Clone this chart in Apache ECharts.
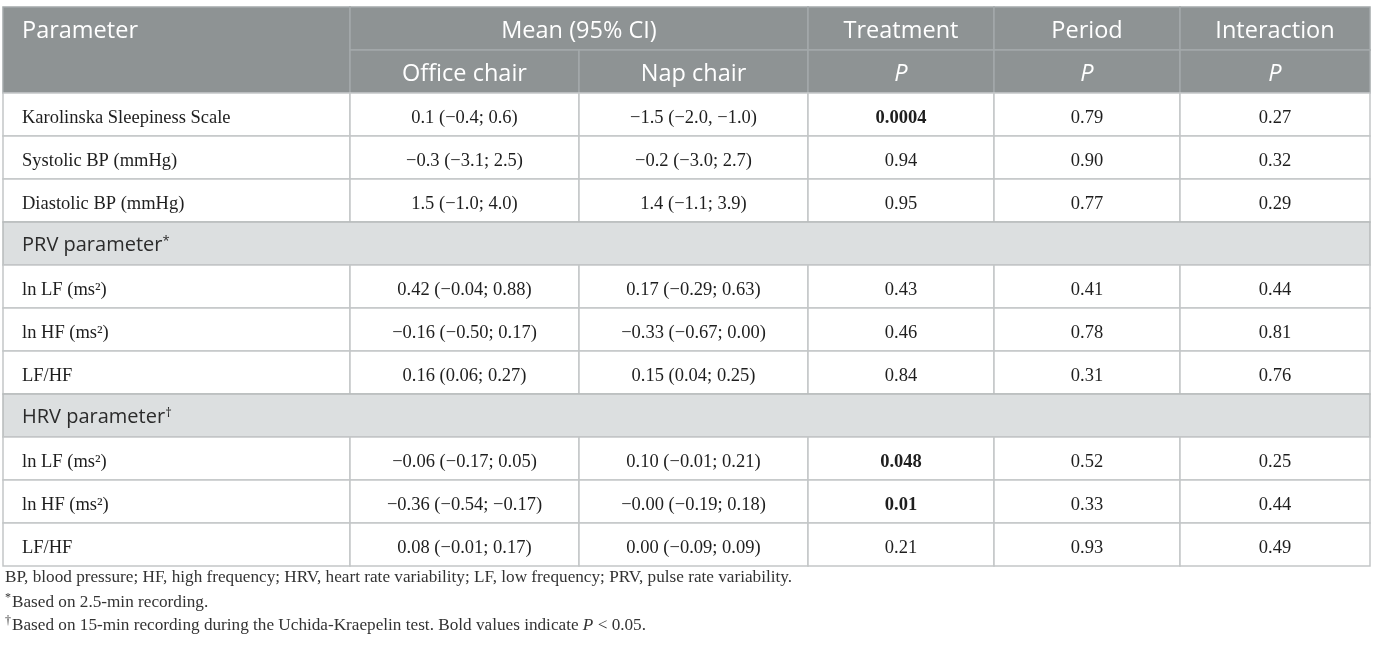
<!DOCTYPE html>
<html>
<head>
<meta charset="utf-8">
<title>Table</title>
<script src="https://cdn.jsdelivr.net/npm/echarts@6/dist/echarts.min.js"></script>
<style>
  html, body { margin: 0; padding: 0; background: #fff; }
  #chart1 { width: 1375px; height: 648px; }
</style>
</head>
<body>
<div id="chart1"></div>
<script>
// 表头
const headTop = ['Parameter', 'Mean (95% CI)', 'Treatment', 'Period', 'Interaction'];
const headSub = ['Office chair', 'Nap chair', 'P', 'P', 'P'];

// 分组
const sectionTitles = ['', 'PRV parameter', 'HRV parameter'];
const sectionMarks = ['', '*', '†'];
const sectionSizes = [3, 3, 3];

// 数据
const rowLabels = [
    'Karolinska Sleepiness Scale', 'Systolic BP (mmHg)', 'Diastolic BP (mmHg)',
    'ln LF (ms²)', 'ln HF (ms²)', 'LF/HF',
    'ln LF (ms²)', 'ln HF (ms²)', 'LF/HF'
];
const officeChair = [
    '0.1 (−0.4; 0.6)', '−0.3 (−3.1; 2.5)', '1.5 (−1.0; 4.0)',
    '0.42 (−0.04; 0.88)', '−0.16 (−0.50; 0.17)', '0.16 (0.06; 0.27)',
    '−0.06 (−0.17; 0.05)', '−0.36 (−0.54; −0.17)', '0.08 (−0.01; 0.17)'
];
const napChair = [
    '−1.5 (−2.0, −1.0)', '−0.2 (−3.0; 2.7)', '1.4 (−1.1; 3.9)',
    '0.17 (−0.29; 0.63)', '−0.33 (−0.67; 0.00)', '0.15 (0.04; 0.25)',
    '0.10 (−0.01; 0.21)', '−0.00 (−0.19; 0.18)', '0.00 (−0.09; 0.09)'
];
const pTreatment = ['0.0004', '0.94', '0.95', '0.43', '0.46', '0.84', '0.048', '0.01', '0.21'];
const pPeriod = ['0.79', '0.90', '0.77', '0.41', '0.78', '0.31', '0.52', '0.33', '0.93'];
const pInteraction = ['0.27', '0.32', '0.29', '0.44', '0.81', '0.76', '0.25', '0.44', '0.49'];

// 脚注
const footnotes = [
    '{t|BP, blood pressure; HF, high frequency; HRV, heart rate variability; LF, low frequency; PRV, pulse rate variability.}',
    '{s|*}{t|Based on 2.5-min recording.}',
    '{s|†}{t|Based on 15-min recording during the Uchida-Kraepelin test. Bold values indicate }{i|P}{t| < 0.05.}'
];

// 布局
const colEdges = [0, 347, 576, 805, 991, 1177, 1367];
const SANS = '"Open Sans", "Noto Sans", sans-serif';
const SERIF = '"Liberation Serif", "DejaVu Serif", serif';

const cells = [];
function addCell(c0, c1, r0, r1, text, kind, extra) {
    cells.push(Object.assign({ c0: c0, c1: c1, r0: r0, r1: r1, text: text, kind: kind }, extra || {}));
}

addCell(0, 1, 0, 2, headTop[0], 'head', { align: 'left' });
addCell(1, 3, 0, 1, headTop[1], 'head');
for (let k = 2; k < headTop.length; k++) addCell(k + 1, k + 2, 0, 1, headTop[k], 'head');
headSub.forEach(function (t, k) {
    addCell(k + 1, k + 2, 1, 2, t, 'head', { italic: t === 'P' });
});

let r = 2, idx = 0;
sectionTitles.forEach(function (title, s) {
    if (title) {
        addCell(0, 6, r, r + 1, '{a|' + title + '}{s|' + sectionMarks[s] + '}', 'section', { align: 'left' });
        r++;
    }
    for (let i = 0; i < sectionSizes[s]; i++) {
        const vals = [rowLabels[idx], officeChair[idx], napChair[idx], pTreatment[idx], pPeriod[idx], pInteraction[idx]];
        vals.forEach(function (v, c) {
            addCell(c, c + 1, r, r + 1, v, 'body', {
                align: c === 0 ? 'left' : 'center',
                bold: c === 3 && Number(v) < 0.05
            });
        });
        r++;
        idx++;
    }
});
const rowCount = r;

const styles = {
    head: { fill: '#8e9394', stroke: '#a4a9aa', color: '#ffffff', font: SANS, size: 23.5, dy: 3 },
    section: { fill: '#dcdfe0', stroke: '#b6babb', color: '#2b2b2b', font: SANS, size: 20, dy: 2 },
    body: { fill: '#ffffff', stroke: '#c3c6c7', color: '#1e1e1e', font: SERIF, size: 18.5, dy: 4 }
};

const myChart = echarts.init(document.getElementById('chart1'));
myChart.setOption({
    animation: false,
    grid: { left: 3, top: 7, width: 1367, height: 559 },
    xAxis: { type: 'value', min: 0, max: colEdges[colEdges.length - 1], show: false },
    yAxis: { type: 'value', min: 0, max: rowCount, inverse: true, show: false },
    series: [{
        type: 'custom',
        coordinateSystem: 'cartesian2d',
        encode: { x: [0, 1], y: [2, 3] },
        data: cells.map(function (c) { return [colEdges[c.c0], colEdges[c.c1], c.r0, c.r1]; }),
        renderItem: function (params, api) {
            const cell = cells[params.dataIndex];
            const st = styles[cell.kind];
            const p0 = api.coord([api.value(0), api.value(2)]);
            const p1 = api.coord([api.value(1), api.value(3)]);
            const pm = api.coord([api.value(0), api.value(2) + 0.5]);
            const x = p0[0], y = p0[1];
            const w = p1[0] - p0[0], h = p1[1] - p0[1];
            const left = cell.align === 'left';
            return {
                type: 'group',
                children: [{
                    type: 'rect',
                    shape: { x: x, y: y, width: w, height: h },
                    style: { fill: st.fill, stroke: st.stroke, lineWidth: 1.5 }
                }, {
                    type: 'text',
                    x: left ? x + 19 : x + w / 2,
                    y: pm[1] + st.dy,
                    style: {
                        text: cell.text,
                        align: left ? 'left' : 'center',
                        verticalAlign: 'middle',
                        fill: st.color,
                        fontFamily: st.font,
                        fontSize: st.size,
                        fontWeight: cell.bold ? 'bold' : 'normal',
                        fontStyle: cell.italic ? 'italic' : 'normal',
                        rich: {
                            a: { fontFamily: st.font, fontSize: st.size, fill: st.color },
                            s: { fontFamily: st.font, fontSize: 13, fill: st.color, verticalAlign: 'top', padding: [0, 0, 8, 0] }
                        }
                    }
                }]
            };
        }
    }],
    graphic: footnotes.map(function (t, k) {
        return {
            type: 'text',
            left: 5,
            top: 569 + k * 23,
            style: {
                text: t,
                rich: {
                    t: { fontFamily: SERIF, fontSize: 17.2, fill: '#333333', lineHeight: 20 },
                    i: { fontFamily: SERIF, fontSize: 17.2, fill: '#333333', fontStyle: 'italic', lineHeight: 20 },
                    s: { fontFamily: SERIF, fontSize: 12, fill: '#333333', lineHeight: 20, verticalAlign: 'top', padding: [0, 1, 8, 0] }
                }
            }
        };
    })
});
</script>
</body>
</html>
